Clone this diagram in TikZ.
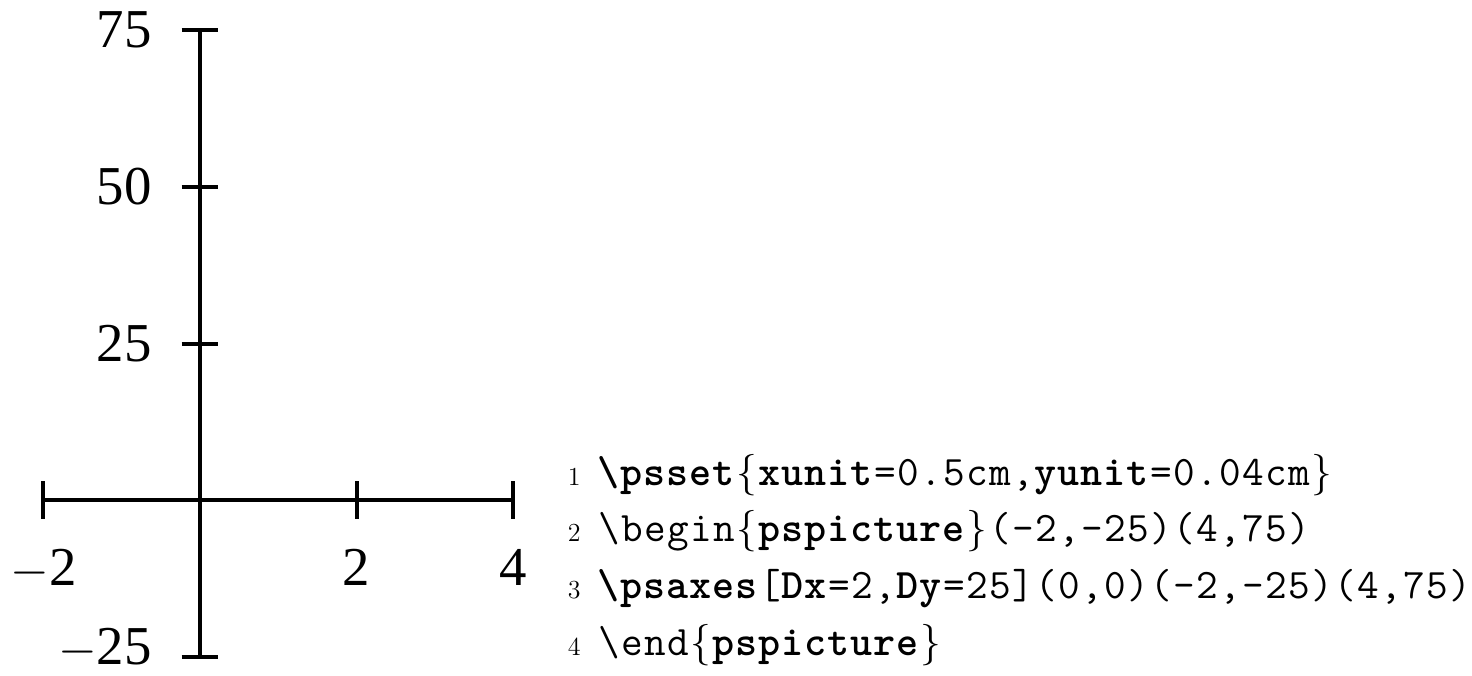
\documentclass[tikz,border=0pt]{standalone}
\usepackage{fontspec}
\newfontfamily\labfont{Liberation Serif}
\def\codepitch{11.5pt}
\def\codeB{\relax codeB}
\def\codeN{\relax codeN}
\def\endcodeloop{\relax codeEnd}
\def\codelb{$\{$}
\def\coderb{$\}$}
\def\codeloop#1{\ifx#1\endcodeloop\else
  \ifx#1\codeB\bfseries\else\ifx#1\codeN\mdseries\else\makebox[\codepitch][c]{#1}\fi\fi
  \expandafter\codeloop\fi}
\def\codeline#1{\begingroup\codeloop#1\endcodeloop\endgroup}
\def\mminus{\smash{$-$}}
\begin{document}
\begin{tikzpicture}[x=0.5pt,y=-0.5pt,
  axis/.style={line width=2pt},
  lab/.style={inner sep=0pt,font=\labfont\fontsize{27.4}{30}\selectfont},
  lnum/.style={inner sep=0pt,anchor=base east,font=\fontsize{13}{15}\selectfont},
  code/.style={inner sep=0pt,anchor=base west,font=\ttfamily\fontsize{21}{24}\selectfont}]
\useasboundingbox (0,0) rectangle (1472,675);
% axes
\coordinate (xl) at (42.7,500);
\coordinate (xr) at (513.3,500);
\coordinate (yb) at (199.6,657);
\coordinate (yt) at (199.6,30);
\draw[axis] (xl) -- (xr);
\draw[axis] (yb) -- (yt);
\foreach \x in {42.7,356.5,513.3} \draw[axis] (\x,481) -- (\x,519);
\foreach \y in {30,186.75,343.5,657} \draw[axis] (181.6,\y) -- (217.6,\y);
% labels
\node[lab,anchor=east] (l75) at (152,30) {75};
\node[lab,anchor=east] (l50) at (152,186.75) {50};
\node[lab,anchor=east] (l25) at (152,343.5) {25};
\node[lab,anchor=east] (lm25) at (152,647) {\mminus25};
\node[lab,anchor=base] (lm2) at (44,585) {\mminus2};
\node[lab,anchor=base] (l2) at (356.5,585) {2};
\node[lab,anchor=base] (l4) at (513.3,585) {4};
% code
\node[lnum] (n1) at (581,485) {1};
\node[lnum] (n2) at (581,541.7) {2};
\node[lnum] (n3) at (581,598.3) {3};
\node[lnum] (n4) at (581,655) {4};
\node[code] (c1) at (597,485) {\codeline{\codeB\textbackslash psset\codeN\codelb\codeB xunit\codeN=0.5cm,\codeB yunit\codeN=0.04cm\coderb}};
\node[code] (c2) at (597,541.7) {\codeline{\textbackslash begin\codelb\codeB pspicture\codeN\coderb(-2,-25)(4,75)}};
\node[code] (c3) at (597,598.3) {\codeline{\codeB\textbackslash psaxes\codeN[\codeB Dx\codeN=2,\codeB Dy\codeN=25](0,0)(-2,-25)(4,75)}};
\node[code] (c4) at (597,655) {\codeline{\textbackslash end\codelb\codeB pspicture\codeN\coderb}};
\end{tikzpicture}
\end{document}
